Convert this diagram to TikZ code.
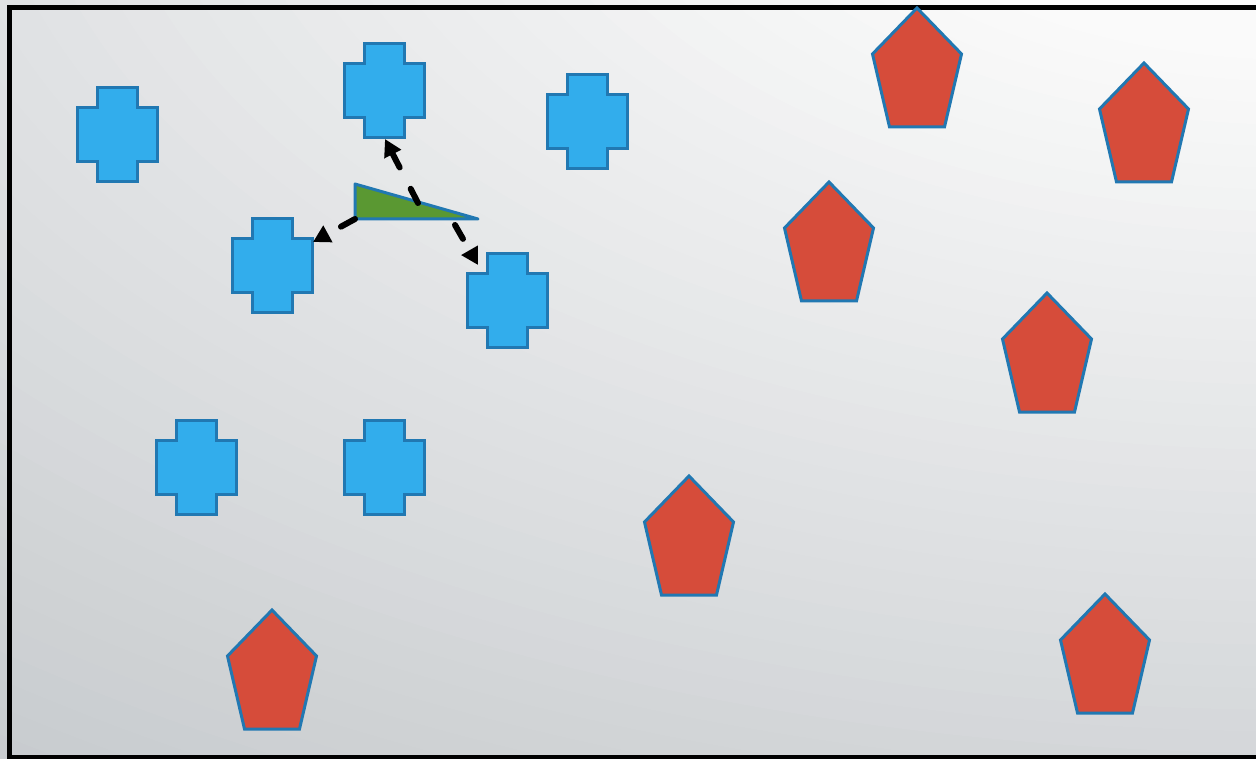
\documentclass[tikz,border=0pt]{standalone}
\usetikzlibrary{arrows.meta}
\definecolor{bgA}{RGB}{250,250,250}
\definecolor{bgB}{RGB}{197,201,204}
\definecolor{crossfill}{RGB}{50,173,236}
\definecolor{shapeline}{RGB}{33,120,178}
\definecolor{pentfill}{RGB}{214,76,58}
\definecolor{trifill}{RGB}{90,152,50}
\tikzset{
  crossst/.style={draw=shapeline, fill=crossfill, line width=3pt, line join=miter},
  pentst/.style={draw=shapeline, fill=pentfill, line width=3pt, line join=miter},
  trist/.style={draw=shapeline, fill=trifill, line width=3pt, line join=round},
  arrowst/.style={draw=black, line width=6pt, line cap=round, dash pattern=on 16pt off 24pt, -{Triangle[length=17pt,width=18pt]}},
  crossshape/.pic={\path[crossst] (-20,-47) -- ++(40,0) -- ++(0,20) -- ++(20,0) -- ++(0,54) -- ++(-20,0) -- ++(0,20) -- ++(-40,0) -- ++(0,-20) -- ++(-20,0) -- ++(0,-54) -- ++(20,0) -- cycle;},
  pentshape/.pic={\path[pentst] (0,0) -- (44.5,46) -- (27.5,119) -- (-27.5,119) -- (-44.5,46) -- cycle;}
}
\begin{document}
\begin{tikzpicture}[x=1pt,y=-1pt]
\useasboundingbox (0,0) rectangle (1256,759);
\begin{scope}
  \clip (0,0) rectangle (1256,759);
  \fill[bgB] (0,0) rectangle (1256,759);
  \foreach \i in {60,...,1}{
    \pgfmathsetmacro\rr{\i/60}
    \pgfmathsetmacro\tt{max(0,min(100,100*(0.957-\rr)/0.757))}
    \fill[bgA!\tt!bgB] (1300,-200) ellipse [x radius=2400*\rr, y radius=1300*\rr];
  }
  \draw[black, line width=5.5pt] (9.5,7.3) rectangle (1266,757.5);
\end{scope}
% crosses
\pic (c1) at (117,135) {crossshape};
\pic (c2) at (384,91) {crossshape};
\pic (c3) at (587,122) {crossshape};
\pic (c4) at (272,266) {crossshape};
\pic (c5) at (507,301) {crossshape};
\pic (c6) at (196,467) {crossshape};
\pic (c7) at (384,467) {crossshape};
% pentagons
\pic (p1) at (917,8) {pentshape};
\pic (p2) at (1144,63) {pentshape};
\pic (p3) at (829,182) {pentshape};
\pic (p4) at (1047,293) {pentshape};
\pic (p5) at (689,476) {pentshape};
\pic (p6) at (272,610) {pentshape};
\pic (p7) at (1105,594) {pentshape};
% triangle
\coordinate (tA) at (355,184);
\coordinate (tB) at (355,219);
\coordinate (tC) at (478,219);
\path[trist] (tA) -- (tB) -- (tC) -- cycle;
% arrow endpoints
\coordinate (s1) at (418,203);
\coordinate (e1) at (385,139);
\coordinate (s2) at (355,219);
\coordinate (e2) at (313,242);
\coordinate (s3) at (455,225);
\coordinate (e3) at (478,265);
\draw[arrowst] (s1) -- (e1);
\draw[arrowst] (s2) -- (e2);
\draw[arrowst] (s3) -- (e3);
\end{tikzpicture}
\end{document}
